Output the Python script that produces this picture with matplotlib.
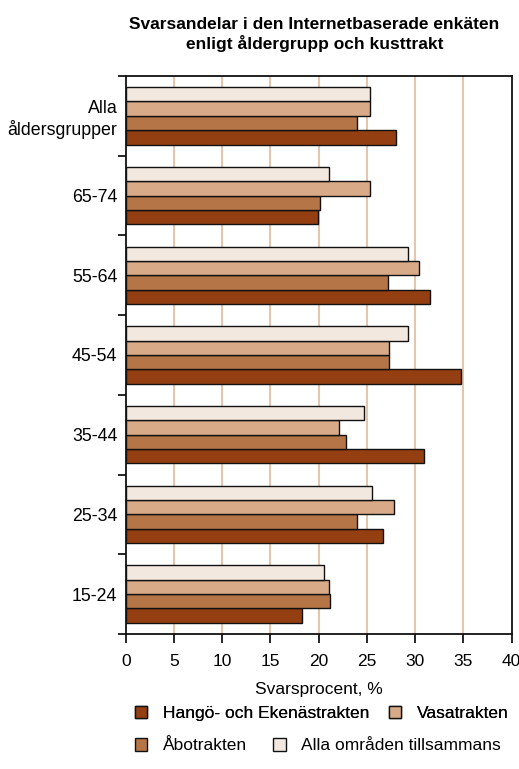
import matplotlib
matplotlib.use("Agg")
import matplotlib.pyplot as plt
import numpy as np
from matplotlib.patches import Patch

plt.rcParams['font.family'] = ['Liberation Sans', 'DejaVu Sans']

categories = ["15-24", "25-34", "35-44", "45-54", "55-64", "65-74", "Alla\nåldersgrupper"]
series_names = ["Hangö- och Ekenästrakten", "Åbotrakten", "Vasatrakten", "Alla områden tillsammans"]
hango = [18.3, 26.7, 30.9, 34.7, 31.5, 19.9, 28.0]
abo = [21.2, 24.0, 22.8, 27.3, 27.2, 20.1, 24.0]
vasa = [21.1, 27.8, 22.1, 27.3, 30.4, 25.3, 25.3]
alla = [20.5, 25.5, 24.7, 29.2, 29.3, 21.1, 25.3]
colors = ["#943F12", "#B57546", "#D8AA88", "#F3E8DF"]
xticks = [0, 5, 10, 15, 20, 25, 30, 35, 40]

fig = plt.figure(figsize=(5.19, 7.69), dpi=100)
ax = fig.add_axes([0.2422, 0.1756, 0.986 - 0.2422, 0.9012 - 0.1756])

n = len(categories)
centers = np.arange(n) + 0.5
h = 0.18
offsets = [-1.5 * h, -0.5 * h, 0.5 * h, 1.5 * h]
for vals, col, off, name in zip([hango, abo, vasa, alla], colors, offsets, series_names):
    ax.barh(centers + off, vals, height=h, color=col, edgecolor="#111111", linewidth=1.0,
            label=name, zorder=3)

ax.set_xlim(0, 40)
ax.set_ylim(0, n)
ax.set_xticks(xticks)
ax.set_xticklabels([str(t) for t in xticks], fontsize=12.5)
for t in xticks[1:-1]:
    ax.axvline(t, color="#E3C6B0", linewidth=1.5, zorder=1)

ax.set_yticks(np.arange(n + 1))
ax.set_yticklabels([])
ax.set_yticks(centers, minor=True)
ax.set_yticklabels(categories, minor=True, fontsize=12.8)
ax.tick_params(axis='y', which='minor', length=0, pad=6)
ax.tick_params(axis='y', which='major', direction='out', length=6, width=1.2)
ax.tick_params(axis='x', direction='out', length=6.5, width=1.2, pad=8)
for s in ax.spines.values():
    s.set_linewidth(1.3)
    s.set_color("#111111")

ax.set_xlabel("Svarsprocent, %", fontsize=12.5, labelpad=9)

fig.text(0.606, 0.978, "Svarsandelar i den Internetbaserade enkäten\nenligt åldergrupp och kusttrakt",
         ha='center', va='top', fontsize=12.5, fontweight='bold', linespacing=1.2)

def mk(i):
    return Patch(facecolor=colors[i], edgecolor="#111111", linewidth=1.0)

kw = dict(ncol=2, loc='upper left', frameon=False, fontsize=12.5, handlelength=0.72,
          handleheight=0.72, handletextpad=0.9, borderpad=0, borderaxespad=0)
leg1 = fig.legend([mk(0), mk(2)], [series_names[0], series_names[2]],
                  bbox_to_anchor=(0.26, 0.082), columnspacing=1.1, **kw)
fig.add_artist(leg1)
leg2 = fig.legend([mk(1), mk(3)], [series_names[1], series_names[3]],
                  bbox_to_anchor=(0.26, 0.040), columnspacing=1.5, **kw)

fig.savefig("out.png", dpi=100)
